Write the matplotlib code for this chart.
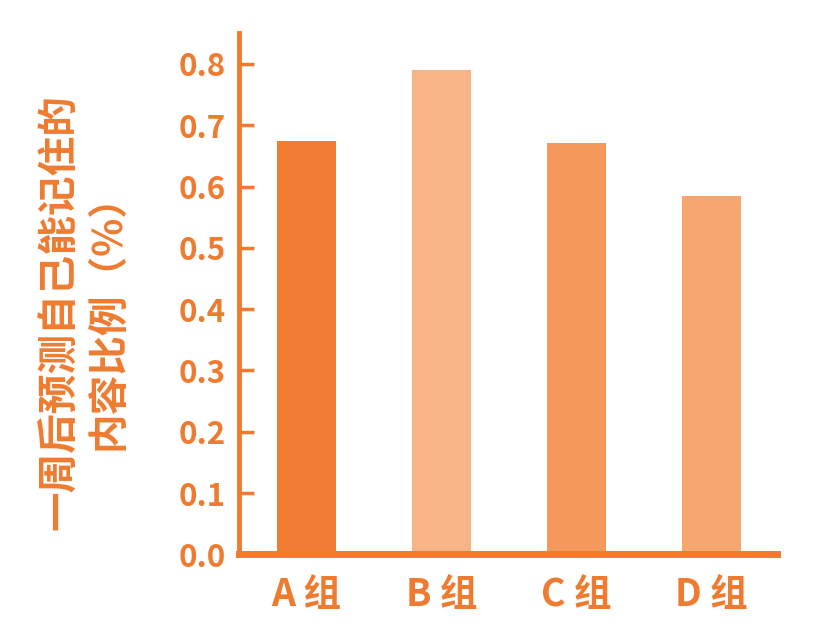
import matplotlib
matplotlib.use("Agg")
from matplotlib import pyplot as plt

plt.rcParams['font.family'] = ['Noto Sans CJK SC', 'DejaVu Sans']

# data
groups = ['A 组', 'B 组', 'C 组', 'D 组']
ratios = [0.675, 0.790, 0.671, 0.584]
bar_colors = ['#F07B32', '#F8B487', '#F5985C', '#F7A670']
orange = '#EE7B30'

W, H = 829, 623
fig = plt.figure(figsize=(W / 100, H / 100), dpi=100, facecolor='white')
# axes box in pixels: left spine x=239.5, right end 777, bottom y=554.4, top y=33.3
ax = fig.add_axes([239.5 / W, (H - 554.4) / H, (777 - 239.5) / W, (554.4 - 33.3) / H])

x = range(len(groups))
ax.bar(x, ratios, width=0.44, color=bar_colors, zorder=2)

ax.set_xlim(-0.496, 3.485)
ax.set_ylim(0, 0.85)
ax.set_yticks([i / 10 for i in range(9)])
ax.set_yticklabels([f'{i / 10:.1f}' for i in range(9)])
ax.set_xticks(list(x))
ax.set_xticklabels(groups)

for side in ['top', 'right']:
    ax.spines[side].set_visible(False)
ax.spines['left'].set_color(orange)
ax.spines['left'].set_linewidth(3.5)
ax.spines['bottom'].set_color(orange)
ax.spines['bottom'].set_linewidth(5)

ax.tick_params(axis='y', direction='in', length=11, width=2.5, color=orange,
               labelcolor=orange, labelsize=22.5, pad=10)
ax.tick_params(axis='x', length=0, labelcolor=orange, labelsize=27, pad=15)
for lab in ax.get_yticklabels() + ax.get_xticklabels():
    lab.set_fontweight('bold')

fig.text(84 / W, 1 - 312 / H, '一周后预测自己能记住的\n内容比例（%）', rotation=90,
         ha='center', va='center', multialignment='center', color=orange,
         fontsize=28.5, fontweight='bold', linespacing=1.22)

fig.savefig('out.png', dpi=100, facecolor='white')
